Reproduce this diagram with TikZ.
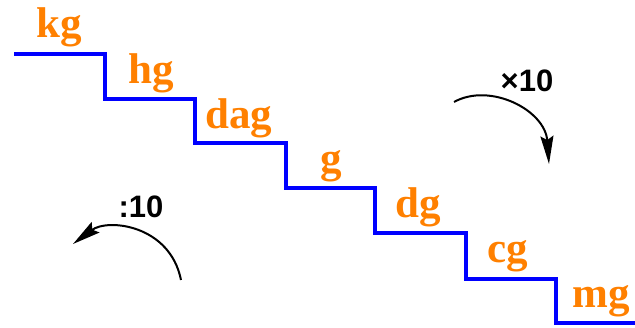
\documentclass[tikz,border=0pt]{standalone}
\usepackage{fontspec}
\setmainfont{Liberation Serif}
\newfontfamily\labelsans{Liberation Sans}
\usetikzlibrary{arrows.meta}
\definecolor{stairblue}{RGB}{0,0,255}
\definecolor{unitorange}{RGB}{255,128,0}
\tikzset{
  unit/.style={anchor=base, inner sep=0pt, text=unitorange,
    font=\fontsize{43}{43}\selectfont\bfseries},
  factor/.style={anchor=base, inner sep=0pt, text=black,
    font=\fontsize{31}{31}\selectfont\labelsans\bfseries},
  stair/.style={draw=stairblue, line width=4pt, line join=miter},
  turn/.style={draw=black, line width=2pt,
    -{Stealth[length=28pt,width=13pt,inset=4pt]}}
}
\begin{document}
\begin{tikzpicture}[x=1pt,y=-1pt]
  \useasboundingbox (0,0) rectangle (635,328);
  % staircase of units
  \draw[stair] (14,54) -| (105,99) -| (195,143) -| (286,188)
    -| (375,233) -| (466,279) -| (556,323) -- (637,323);
  % unit labels, one per step
  \node[unit] (kg)  at (59,38)   {kg};
  \node[unit] (hg)  at (151,84)  {hg};
  \node[unit] (dag) at (239,129) {dag};
  \node[unit] (g)   at (331,173) {g};
  \node[unit] (dg)  at (418,218) {dg};
  \node[unit] (cg)  at (508,263) {cg};
  \node[unit] (mg)  at (601,308) {mg};
  % conversion factors
  \node[factor] (mul) at (527,92)  {×10};
  \node[factor] (div) at (141,218) {:10};
  \coordinate (mulA) at (454,102);
  \coordinate (mulB) at (549,164);
  \coordinate (divA) at (181,280);
  \coordinate (divB) at (73,244);
  \draw[turn] (mulA) .. controls (490,82) and (545,110) .. (mulB);
  \draw[turn] (divA) .. controls (170,225) and (108,218) .. (divB);
\end{tikzpicture}
\end{document}
